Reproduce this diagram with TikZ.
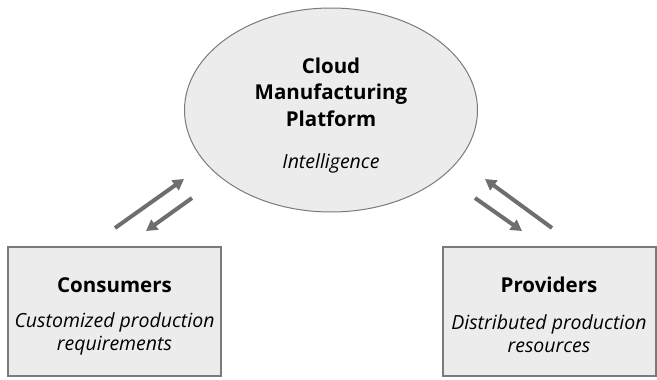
\documentclass[tikz,border=0pt]{standalone}
\usepackage{fontspec}
\setmainfont{Open Sans}
\usetikzlibrary{shapes.geometric,arrows.meta}
\definecolor{shade}{HTML}{ECECEC}
\definecolor{rim}{HTML}{7A7A7A}
\definecolor{flow}{HTML}{6E6E6E}
\tikzset{
  title/.style={font=\fontsize{20.5}{26.5}\selectfont\bfseries, align=center},
  note/.style={font=\fontsize{19.5}{23}\selectfont\itshape, align=center},
  party/.style={draw=rim, fill=shade, line width=2pt, minimum width=213pt, minimum height=129pt},
  flowarrow/.style={draw=flow, line width=4pt, -{Triangle[length=11pt,width=12pt]}}
}

\begin{document}
\begin{tikzpicture}[x=1pt, y=-1pt]
    \useasboundingbox (0,0) rectangle (657,380);
    % platform
    \node [ellipse, draw=rim, fill=shade, line width=1pt, minimum width=293pt, minimum height=204pt] (cloud) at (331,110) {};
    \node [title] (cloudname) at (331,92) {Cloud\\Manufacturing\\Platform};
    \node [note] (cloudnote) at (331,163) {Intelligence};
    % two parties
    \node [party] (consumers) at (114.5,311.5) {};
    \node [title] (consname) at (114.5,285) {Consumers};
    \node [note] (consnote) at (114.5,334) {Customized production\\requirements};
    \node [party] (providers) at (549,311) {};
    \node [title] (provname) at (549,285) {Providers};
    \node [note] (provnote) at (549,334) {Distributed production\\resources};
    % arrow ends
    \coordinate (cup0) at (115,228);
    \coordinate (cup1) at (184,179);
    \coordinate (cdn0) at (192,198);
    \coordinate (cdn1) at (146,231);
    \coordinate (pup0) at (552,228);
    \coordinate (pup1) at (485,179);
    \coordinate (pdn0) at (475,198);
    \coordinate (pdn1) at (522,231);
    \draw [flowarrow] (cup0) -- (cup1);
    \draw [flowarrow] (cdn0) -- (cdn1);
    \draw [flowarrow] (pup0) -- (pup1);
    \draw [flowarrow] (pdn0) -- (pdn1);
\end{tikzpicture}
\end{document}
